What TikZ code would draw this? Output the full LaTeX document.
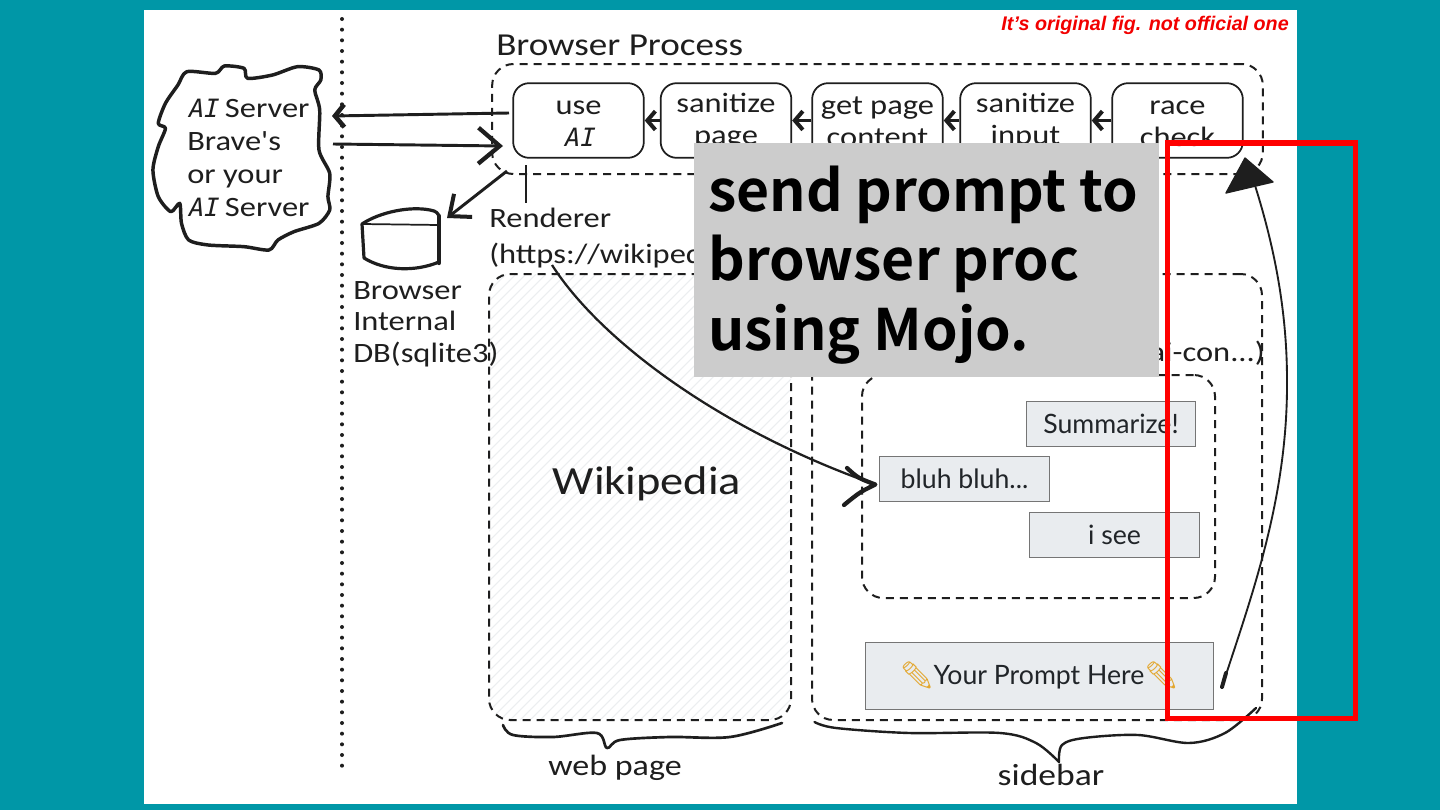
\documentclass[tikz,border=0pt]{standalone}
\usepackage{fontspec}
\usetikzlibrary{arrows.meta}
\newfontfamily\hand[FakeStretch=1.16]{Carlito}
\newfontfamily\handit[FakeSlant=0.22,Scale=0.9]{DejaVu Sans Mono}
\newfontfamily\uifont{Lato}
\newfontfamily\bigfont{Noto Sans CJK JP Bold}
\newfontfamily\notefont{Liberation Sans}
\newfontfamily\emojifont{Noto Emoji}
\newcommand{\tallstrut}{\rule{0pt}{15.5pt}}
\definecolor{teal0}{RGB}{0,151,167}
\definecolor{ink}{HTML}{1E1E1E}
\definecolor{btn}{HTML}{E9ECEF}
\definecolor{btnline}{HTML}{757575}
\definecolor{uitext}{HTML}{212529}
\definecolor{hatch}{HTML}{ECEEF0}
\definecolor{graybox}{HTML}{CCCCCC}
\definecolor{pencil}{HTML}{E3A72F}
\tikzset{
  handtext/.style={font=\hand\fontsize{21}{24}\selectfont, text=ink, inner sep=0pt, align=center},
  handleft/.style={handtext, align=left, anchor=west, text height=14pt, text depth=4pt},
  dashbox/.style={draw=ink, line width=1.5pt, dash pattern=on 6pt off 4.5pt, rounded corners=16pt},
  stepbox/.style={draw=ink, line width=1.3pt, rounded corners=12pt, minimum width=98pt, minimum height=56pt, inner sep=0pt, handtext},
  ui/.style={draw=btnline, fill=btn, line width=0.75pt, inner sep=0pt, text=uitext, font=\uifont\fontsize{20}{24}\selectfont, minimum height=33.75pt, minimum width=127pt},
  smallarrow/.style={draw=ink, line width=2.6pt, -{Straight Barb[length=6pt,width=14pt,line width=3pt]}},
  bigarrow/.style={draw=ink, line width=2.2pt, -{Straight Barb[length=16pt,width=27pt,line width=3.2pt]}},
  thinarrow/.style={draw=ink, line width=1.4pt, line cap=round},
  sketch/.style={draw=ink, line width=1.8pt, line cap=round, line join=round}
}
\begin{document}
\begin{tikzpicture}[x=0.75pt,y=-0.75pt]
\useasboundingbox (0,0) rectangle (1440,810);
\fill[teal0] (0,0) rectangle (1440,810);
\fill[white] (144,10) rectangle (1297,804);

% hatching of the web page
\begin{scope}
  \clip[rounded corners=16pt] (489,274) rectangle (791,720);
  \foreach \x in {40,50,...,800}
    \draw[hatch, line width=0.8pt] (\x,720) -- (\x+446,274);
\end{scope}

% separator
\draw[ink, line width=3pt, dash pattern=on 0pt off 8pt, line cap=round] (342,19) -- (342,773);

% AI server cloud
\begin{scope}[shift={(144,10)}, x=0.26786pt, y=-0.25pt]
\draw[ink, line width=2.6pt, line join=round] plot[smooth cycle, tension=.45] coordinates {
 (120,185) (200,190) (225,168) (280,175) (290,205) (360,195) (430,170) (490,180) (495,210) (478,240)
 (492,300) (490,420) (520,490) (515,560) (520,600) (490,640) (420,665) (375,690) (350,720) (280,710)
 (180,705) (125,690) (105,640) (100,580) (75,605) (40,560) (25,480) (40,410) (60,355) (40,340) (60,280) (95,225)};
\end{scope}
\node[handleft] (srv1) at (187,111) {{\handit AI} Server};
\node[handleft] (srv2) at (187,144) {Brave's};
\node[handleft] (srv3) at (187,177) {or your};
\node[handleft] (srv4) at (187,210) {{\handit AI} Server};

% database
\draw[sketch, line width=2.4pt] (362,224) .. controls (380,212) and (410,206) .. (430,210)
  .. controls (436,211) and (439,213) .. (439,218) -- (439,262)
  .. controls (415,272) and (385,271) .. (364,258) -- cycle;
\draw[sketch, line width=1.3pt] (362,224) -- (439,225);
\draw[sketch, line width=3.2pt] (439,216) -- (439,263);
\node[handleft] (db1) at (353,293) {Browser};
\node[handleft] (db2) at (353,324) {Internal};
\node[handleft] (db3) at (353,356) {DB(sqlite3)};

% browser process
\node[handleft, font=\hand\fontsize{24}{28}\selectfont] (bp) at (496,49) {Browser Process};
\node[dashbox, minimum width=578pt, minimum height=82.5pt, inner sep=0pt] (bpbox) at (877.5,119) {};
\node[stepbox] (use)  at (578.5,120.5) {\tallstrut use\\{\handit AI}};
\node[stepbox] (san)  at (726,120.5) {\tallstrut sanitize\\page};
\node[stepbox] (get)  at (877.5,120.5) {\tallstrut get page\\content};
\node[stepbox] (inp)  at (1025.5,120.5) {\tallstrut sanitize\\input};
\node[stepbox] (race) at (1177.5,120.5) {\tallstrut race\\check};
\draw[smallarrow] (san.west) -- (use.east);
\draw[smallarrow] (get.west) -- (san.east);
\draw[smallarrow] (inp.west) -- (get.east);
\draw[smallarrow] (race.west) -- (inp.east);

% arrows around the AI box
\coordinate (useOut) at (509,113);
\coordinate (srvIn)  at (332,116);
\coordinate (srvOut) at (333,144);
\coordinate (useIn)  at (503,146);
\coordinate (useDb)  at (507,171);
\coordinate (dbIn)   at (447,218);
\draw[bigarrow, -{Straight Barb[length=7pt,width=17pt,line width=3.4pt]}] (useOut) -- (srvIn);
\draw[bigarrow] (srvOut) -- (useIn);
\draw[bigarrow, -{Straight Barb[length=13pt,width=22pt,line width=3pt]}] (useDb) -- (dbIn);

% renderer
\coordinate (rendTop) at (526,165);
\coordinate (rendBot) at (526,203);
\draw[ink, line width=1.2pt] (rendTop) -- (rendBot);
\node[handleft] (rend1) at (489,221) {Renderer};
\node[handleft] (rend2) at (489,257) {(https://wikipedia};

% web page and sidebar
\node[dashbox, minimum width=226.5pt, minimum height=334.5pt, inner sep=0pt] (web) at (640,497) {};
\node[handtext, font=\hand\fontsize{30}{34}\selectfont] (wiki) at (647,484) {Wikipedia};
\node[dashbox, minimum width=337.5pt, minimum height=334.5pt, inner sep=0pt] (side) at (1037,497) {};
\node[handtext, anchor=east] (sideurl) at (1265,353) {ai-con...)};
\node[dashbox, minimum width=264.75pt, minimum height=167.25pt, inner sep=0pt] (chat) at (1038.5,486.5) {};

\node[ui] (sum)  at (1111,423.5) {Summarize!};
\node[ui] (bluh) at (964.5,478.5) {bluh bluh...};
\node[ui] (see)  at (1114.5,534.5) {i see};
\node[ui, minimum width=261pt, minimum height=50.25pt] (prompt) at (1039,675.5)
  {{\emojifont\color{pencil}\char"270F}Your Prompt Here{\emojifont\color{pencil}\char"270F}};

% curved arrow to bluh
\coordinate (rendOut) at (552,265);
\coordinate (bluhTip) at ([xshift=-3pt,yshift=-4.5pt]bluh.west);
\coordinate (barbA) at (847,468);
\coordinate (barbB) at (844,505);
\draw[ink, line width=1.7pt] (rendOut) .. controls (600,340) and (720,430) .. (bluhTip);
\draw[ink, line width=3.2pt, line cap=round, line join=round] (barbA) .. controls (858,478) .. (bluhTip) .. controls (860,492) .. (barbB);

% curved arrow up to browser process
\coordinate (pStart) at (1222,687);
\coordinate (pMid)   at (1287,380);
\coordinate (pTip)   at (1250,170);
\draw[thinarrow] (pStart) .. controls (1250,600) and (1288,500) .. (pMid)
   .. controls (1287,300) and (1270,230) .. (pTip);
\draw[ink, line width=3pt, line cap=round] (pStart) -- (1226,673);
\fill[ink, draw=ink, line width=1pt, line join=round] (1245,158) -- (1226,193) -- (1273,182) -- cycle;

% braces
\draw[sketch, line width=2pt] plot[smooth, tension=.55] coordinates {
  (503,725) (513,735) (553,737) (597,733) (607,748) (620,740) (670,737) (730,737) (782,723)};
\node[handtext, font=\hand\fontsize{22}{24}\selectfont] (webl) at (615,768) {web page};
\draw[sketch] plot[smooth, tension=.55] coordinates {
  (814.5,722) (836,728) (909,733) (1000,733) (1036,743) (1059,762)};
\draw[sketch] plot[smooth, tension=.55] coordinates {
  (1059,762) (1062,745) (1084,738) (1138,735) (1189,743) (1225,733) (1256,708)};
\node[handtext, font=\hand\fontsize{23}{24}\selectfont] (sidel) at (1051,775) {sidebar};

% note and overlay
\node[anchor=east, inner sep=0pt, text=red!95!black, font=\notefont\bfseries\itshape\fontsize{14.8}{18}\selectfont] (note) at (1289,25) {It’s original fig. not official one};
\node[fill=graybox, anchor=north west, minimum width=348.75pt, minimum height=175.5pt, inner sep=0pt] (gray) at (694,143) {};
\node[anchor=west, inner sep=0pt, align=left, text=black, font=\bigfont\fontsize{42.8}{52}\selectfont] (msg) at (708,265) {send prompt to\\browser proc\\using Mojo.};
\draw[red, line width=3.9pt, line join=miter] (1167.5,143) rectangle (1355.5,718.5);
\end{tikzpicture}
\end{document}
